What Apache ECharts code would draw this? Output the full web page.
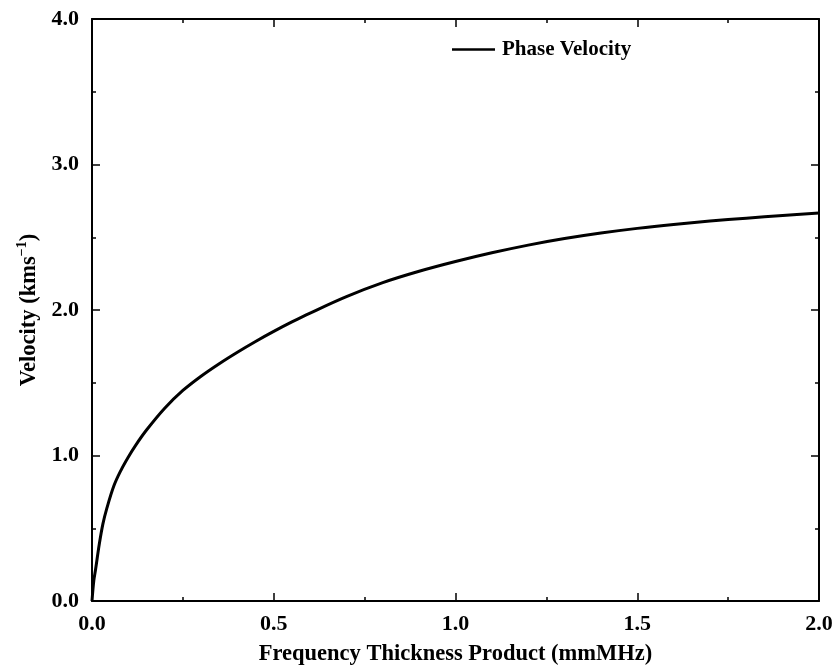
<!DOCTYPE html>
<html>
<head>
<meta charset="utf-8">
<script src="https://cdn.jsdelivr.net/npm/echarts@6/dist/echarts.min.js"></script>
<style>
  html, body { margin: 0; padding: 0; background: #fff; }
  #chart { width: 837px; height: 671px; }
</style>
</head>
<body>
<div id="chart"></div>
<script>
// Frequency-thickness product (mm·MHz)
const freqThickness = [0, 0.005, 0.01, 0.02, 0.03, 0.04, 0.06, 0.08, 0.1, 0.12, 0.15, 0.2, 0.25, 0.3, 0.35, 0.4, 0.45, 0.5, 0.55, 0.6, 0.7, 0.8, 0.9, 1.0, 1.1, 1.2, 1.3, 1.4, 1.5, 1.6, 1.7, 1.8, 1.9, 2.0];
// Phase velocity (km/s)
const phaseVelocity = [0, 0.14, 0.22, 0.39, 0.53, 0.63, 0.79, 0.9, 0.99, 1.07, 1.175, 1.325, 1.447, 1.545, 1.631, 1.71, 1.784, 1.853, 1.918, 1.979, 2.092, 2.188, 2.266, 2.333, 2.393, 2.446, 2.491, 2.529, 2.561, 2.588, 2.611, 2.631, 2.649, 2.666];
const xTicks = ['0.0', '0.5', '1.0', '1.5', '2.0'];
const yTicks = ['0.0', '1.0', '2.0', '3.0', '4.0'];
const seriesName = 'Phase Velocity';

const FONT = '"Liberation Serif", "Times New Roman", serif';
const ink = '#000';

const points = freqThickness.map((f, i) => [f, phaseVelocity[i]]);

function axisBase(extra) {
  return Object.assign({
    type: 'value',
    axisLine: { show: true, onZero: false, lineStyle: { color: ink, width: 2 } },
    axisTick: { show: true, inside: true, length: 8, lineStyle: { color: ink, width: 1.5 } },
    minorTick: { show: true, splitNumber: 2, length: 4, lineStyle: { color: ink, width: 1.5 } },
    splitLine: { show: false },
    minorSplitLine: { show: false }
  }, extra);
}

const chart = echarts.init(document.getElementById('chart'));
chart.setOption({
  backgroundColor: '#fff',
  animation: false,
  grid: { left: 92, right: 18, top: 19, bottom: 61 },
  legend: {
    data: [seriesName],
    left: 447, top: 34,
    icon: 'rect', itemWidth: 43, itemHeight: 2.5, itemGap: 8,
    textStyle: { fontFamily: FONT, fontWeight: 'bold', fontSize: 21, color: ink, padding: [0, 0, 0, 2] }
  },
  xAxis: [
    axisBase({
      min: 0, max: 2, interval: 0.5,
      axisLabel: {
        margin: 12, color: ink, fontFamily: FONT, fontWeight: 'bold', fontSize: 22,
        formatter: v => xTicks[Math.round(v / 0.5)]
      },
      name: 'Frequency Thickness Product (mmMHz)',
      nameLocation: 'middle', nameGap: 42,
      nameTextStyle: { color: ink, fontFamily: FONT, fontWeight: 'bold', fontSize: 22.5 }
    }),
    axisBase({ position: 'top', min: 0, max: 2, interval: 0.5, axisLabel: { show: false } })
  ],
  yAxis: [
    axisBase({
      min: 0, max: 4, interval: 1,
      axisLabel: {
        margin: 13, color: ink, fontFamily: FONT, fontWeight: 'bold', fontSize: 22,
        formatter: v => yTicks[Math.round(v)]
      },
      name: '{t|Velocity (kms}{s|−1}{t|)}',
      nameLocation: 'middle', nameGap: 47,
      nameTextStyle: {
        rich: {
          t: { color: ink, fontFamily: FONT, fontWeight: 'bold', fontSize: 22.5 },
          s: { color: ink, fontFamily: FONT, fontWeight: 'bold', fontSize: 14, padding: [0, 0, 13, 0] }
        }
      }
    }),
    axisBase({ position: 'right', min: 0, max: 4, interval: 1, axisLabel: { show: false } })
  ],
  series: [{
    name: seriesName,
    type: 'line',
    data: points,
    smooth: 0.35,
    showSymbol: false,
    symbol: 'none',
    lineStyle: { color: ink, width: 3 },
    itemStyle: { color: ink }
  }]
});
</script>
</body>
</html>
